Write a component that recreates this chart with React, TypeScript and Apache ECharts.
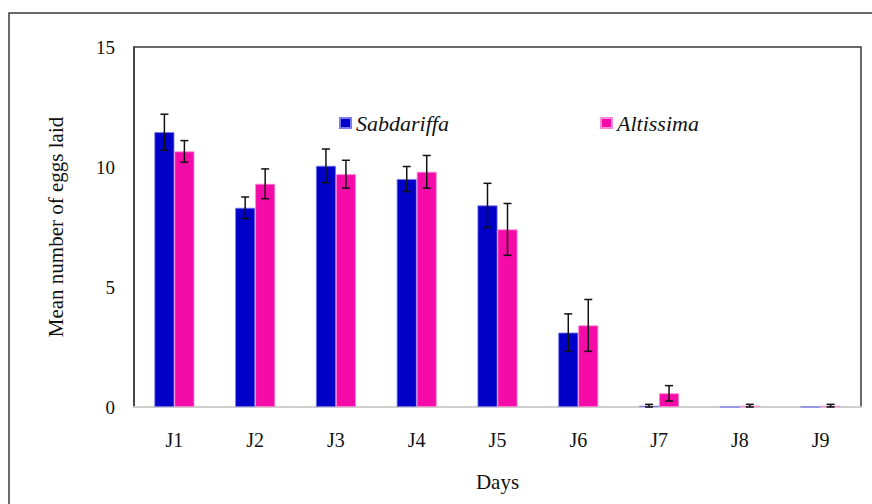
import React, { useEffect, useRef } from "react";
import * as echarts from "echarts";

const categories = ["J1", "J2", "J3", "J4", "J5", "J6", "J7", "J8", "J9"];
const sabdariffa = [11.45, 8.3, 10.05, 9.5, 8.4, 3.1, 0.05, 0, 0];
const sabdariffaErr = [0.75, 0.45, 0.7, 0.52, 0.92, 0.78, 0.06, 0, 0];
const altissima = [10.65, 9.3, 9.7, 9.8, 7.4, 3.4, 0.57, 0.05, 0.05];
const altissimaErr = [0.45, 0.62, 0.58, 0.68, 1.08, 1.08, 0.32, 0.06, 0.06];
const yTicks = [0, 5, 10, 15];
const seriesNames = ["Sabdariffa", "Altissima"];

const FONT = "Liberation Serif";
const BLUE = "#0000c8";
const PINK = "#f50ca8";

function errorSeries(values: number[], errs: number[], offset: number) {
  return {
    type: "custom",
    silent: true,
    z: 5,
    data: values.map((v, i) => [i, v, errs[i]]),
    encode: { x: 0, y: 1 },
    renderItem: (params: any, api: any) => {
      const idx = api.value(0);
      const v = api.value(1);
      const e = api.value(2);
      if (!e) return null;
      const top = api.coord([idx, v + e]);
      const bot = api.coord([idx, Math.max(0, v - e)]);
      const x = top[0] + offset;
      const cap = 4;
      const style = { stroke: "#111", lineWidth: 1.5 };
      return {
        type: "group",
        children: [
          { type: "line", shape: { x1: x, y1: top[1], x2: x, y2: bot[1] }, style },
          { type: "line", shape: { x1: x - cap, y1: top[1], x2: x + cap, y2: top[1] }, style },
          { type: "line", shape: { x1: x - cap, y1: bot[1], x2: x + cap, y2: bot[1] }, style },
        ],
      };
    },
  };
}

function legendItem(name: string, left: number) {
  return {
    data: [name],
    left,
    top: 107,
    itemWidth: 11,
    itemHeight: 10,
    icon: "rect",
    textStyle: {
      fontFamily: FONT,
      fontStyle: "italic",
      fontSize: 22,
      color: "#111",
    },
  };
}

export default function App() {
  const ref = useRef<HTMLDivElement>(null);
  useEffect(() => {
    const chart = echarts.init(ref.current!, undefined, { renderer: "svg" });
    chart.setOption({
      animation: false,
      backgroundColor: "#ffffff",
      textStyle: { fontFamily: FONT },
      graphic: [
        {
          type: "rect",
          shape: { x: 9, y: 13, width: 900, height: 600 },
          style: { fill: "none", stroke: "#3a3a3a", lineWidth: 1.5 },
          silent: true,
        },
      ],
      legend: [legendItem(seriesNames[0], 334), legendItem(seriesNames[1], 595)],
      grid: {
        left: 134,
        right: 11,
        top: 47,
        bottom: 97,
        show: true,
        borderColor: "#3a3a3a",
        borderWidth: 1.5,
        backgroundColor: "transparent",
      },
      xAxis: {
        type: "category",
        data: categories,
        name: "Days",
        nameLocation: "middle",
        nameGap: 64,
        nameTextStyle: { fontFamily: FONT, fontSize: 21, color: "#111" },
        axisLine: { lineStyle: { color: "#cfcfcf", width: 2 } },
        axisTick: { show: false },
        axisLabel: { margin: 23, fontFamily: FONT, fontSize: 20, color: "#111" },
      },
      yAxis: {
        type: "value",
        min: yTicks[0],
        max: yTicks[yTicks.length - 1],
        interval: 5,
        name: "Mean number of eggs laid",
        nameLocation: "middle",
        nameGap: 68,
        nameTextStyle: { fontFamily: FONT, fontSize: 21, color: "#111" },
        axisLine: { show: true, lineStyle: { color: "#3a3a3a", width: 1.5 } },
        axisTick: { show: false },
        splitLine: { show: false },
        axisLabel: { margin: 19, fontFamily: FONT, fontSize: 19, color: "#111" },
      },
      series: [
        {
          name: seriesNames[0],
          type: "bar",
          data: sabdariffa,
          barWidth: 20,
          barGap: "0%",
          itemStyle: { color: BLUE, borderColor: "#7a7aee", borderWidth: 0.8 },
        },
        {
          name: seriesNames[1],
          type: "bar",
          data: altissima,
          barWidth: 20,
          barGap: "0%",
          itemStyle: { color: PINK, borderColor: "#fb8ad6", borderWidth: 0.8 },
        },
        errorSeries(sabdariffa, sabdariffaErr, -10),
        errorSeries(altissima, altissimaErr, 10),
      ],
    });
    return () => chart.dispose();
  }, []);
  return (
    <div
      ref={ref}
      style={{ position: "fixed", left: 0, top: 0, width: 872, height: 504 }}
    />
  );
}
